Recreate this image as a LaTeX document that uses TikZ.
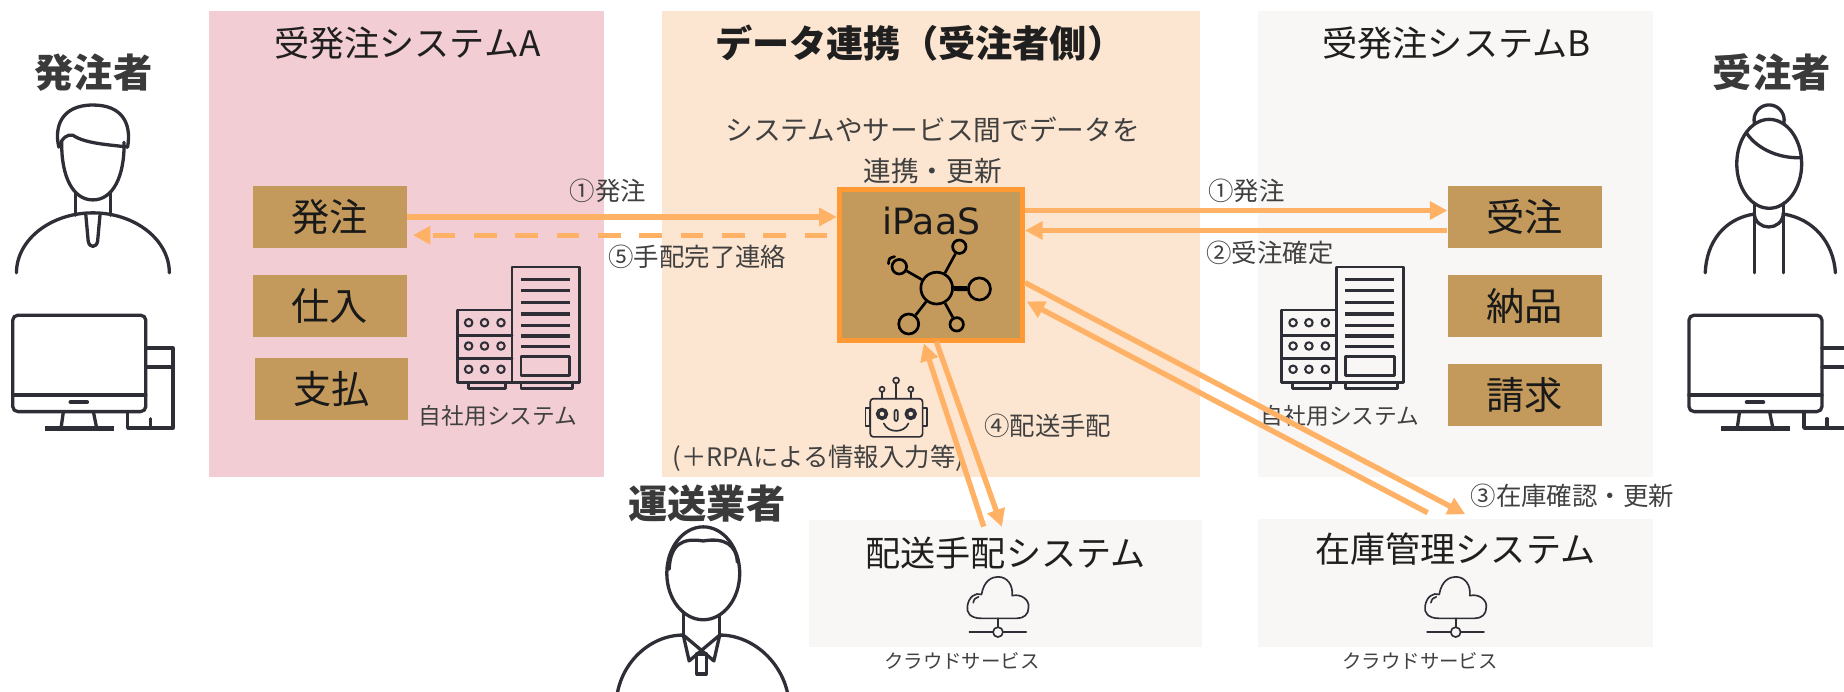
\documentclass[tikz,border=0pt]{standalone}
\usepackage{fontspec}
\setmainfont{Noto Sans CJK JP}
\newfontfamily\latinfont{DejaVu Sans}
\usetikzlibrary{arrows.meta,calc}

\definecolor{pinkbg}{HTML}{F2CDD4}
\definecolor{peachbg}{HTML}{FDE6D1}
\definecolor{greybg}{HTML}{F8F7F5}
\definecolor{boxtan}{HTML}{C49A5C}
\definecolor{ipaasedge}{HTML}{FF9933}
\definecolor{flowor}{HTML}{FFB266}
\definecolor{icongrey}{HTML}{2E2E36}
\definecolor{labelgrey}{HTML}{404040}
\definecolor{whogrey}{HTML}{3A3A3A}

\tikzset{
  panel/.style={fill=#1, inner sep=0pt, outer sep=0pt, anchor=north west},
  paneltitle/.style={font=\fontsize{17}{20}\selectfont, text=black!88},
  who/.style={font=\bfseries\fontsize{19}{22}\selectfont, text=whogrey},
  funcbox/.style={fill=boxtan, minimum width=2.614cm, minimum height=1.06cm,
    inner sep=0pt, font=\fontsize{18.5}{20}\selectfont, text=black!90},
  flow/.style={draw=flowor, line width=2.6pt, -{Triangle[length=8.5pt,width=8.5pt]}},
  flowlbl/.style={font=\fontsize{12.3}{14}\selectfont, text=labelgrey},
  smalllbl/.style={font=\fontsize{#1}{14}\selectfont, text=labelgrey},
  iconline/.style={draw=icongrey, line width=1.6pt, line cap=round, line join=round},
  thinicon/.style={draw=icongrey, line width=0.8pt, line cap=round, line join=round},
  netdot/.style={circle, draw=black, line width=1.3pt, inner sep=0pt},
  netline/.style={draw=black, line width=1.3pt},
  pics/desktop/.style={code={
    \draw[iconline, rounded corners=2.5pt] (0,0) rectangle (113.2,82);
    \draw[iconline] (0,68) -- (113.2,68);
    \draw[iconline, line width=2pt] (49.2,74) -- (63.2,74);
    \draw[iconline] (43.1,82) -- (41.1,96) (68.6,82) -- (71.4,96);
    \draw[iconline, line width=2.4pt, line cap=butt] (27.5,96) -- (86.2,96);
    \draw[iconline] (113.2,28) -- (136.2,28) -- (136.2,96) -- (97.8,96) -- (97.8,82);
    \draw[iconline] (113.2,44) -- (136.2,44);
    \draw[iconline] (117.4,96) -- (117.4,88);
  }},
  pics/server/.style={code={
    \draw[iconline, line width=1.4pt] (0,0) rectangle (46.4,61.9);
    \draw[iconline, line width=1.4pt] (0,21.4) -- (46.4,21.4) (0,41) -- (46.4,41);
    \foreach \r in {10.8,30.6,50.4}
      \foreach \c in {9.5,23,37}
        \draw[iconline, line width=1pt] (\c,\r) circle[radius=3.2];
    \draw[iconline, line width=1.4pt] (46.4,-36.6) rectangle (103.5,61.9);
    \foreach \yy in {-25.6,-16.2,-6.6,3.4,12.8,22.1,31.2}
      \draw[icongrey, line width=1.5pt] (54,\yy) -- (95.6,\yy);
    \draw[iconline, line width=1.4pt] (54,39.4) rectangle (95.6,55.4);
    \draw[iconline, line width=1.4pt] (9,61.9) rectangle (41,66.4);
    \draw[iconline, line width=1.4pt] (54,61.9) rectangle (98,66.4);
  }},
  pics/cloudsvc/.style={code={
    \draw[thinicon] (-14,-11.7) .. controls (-24,-11.7) and (-27,-17) .. (-26,-22)
      .. controls (-25,-30) and (-19,-34) .. (-14,-32)
      .. controls (-12,-44) and (-5,-47) .. (0,-47)
      .. controls (8,-47) and (13,-40) .. (12,-31)
      .. controls (20,-33) and (27,-27) .. (26,-21)
      .. controls (26,-15) and (22,-11.7) .. (16,-11.7) -- cycle;
    \draw[thinicon] (-21,-25) .. controls (-20.5,-28) and (-19,-29.5) .. (-16.5,-30);
    \draw[thinicon] (0,-11.7) -- (0,-4.2);
    \draw[thinicon] (0,0) circle[radius=4.2];
    \draw[thinicon] (-24.3,0) -- (-4.2,0) (4.2,0) -- (24,0);
  }}
}

\begin{document}
\begin{tikzpicture}[x=0.02cm, y=-0.02cm]
\useasboundingbox (0,0) rectangle (1568,588);
\clip (0,0) rectangle (1568,588);

% background panels
\node[panel=pinkbg, minimum width=6.71cm, minimum height=7.92cm] (sysA) at (178,9.5) {};
\node[panel=peachbg, minimum width=9.148cm, minimum height=7.92cm] (link) at (563,9.5) {};
\node[panel=greybg, minimum width=6.712cm, minimum height=7.92cm] (sysB) at (1070,9.5) {};
\node[panel=greybg, minimum width=6.68cm, minimum height=2.16cm] (deliv) at (688,442.5) {};
\node[panel=greybg, minimum width=6.712cm, minimum height=2.18cm] (stock) at (1070,441.5) {};

% panel titles
\node[paneltitle] (titleA) at (346.4,36.5) {受発注システムA};
\node[paneltitle] (titleB) at (1238.5,36.5) {受発注システムB};
\node[paneltitle, font=\bfseries\fontsize{18}{20}\selectfont] (titleC) at (782,36.5) {データ連携（受注者側）};
\node[paneltitle] (titleD) at (855,470) {配送手配システム};
\node[paneltitle] (titleS) at (1237.5,467) {在庫管理システム};
\node[smalllbl=13.4, align=center, font=\fontsize{13.4}{19.8}\selectfont] (what) at (793,127.5)
  {システムやサービス間でデータを\\連携・更新};

% people
\node[who] (orderer) at (79.5,62) {発注者};
\node[who] (supplier) at (1506.5,62) {受注者};
\node[who] (carrier) at (601,428) {運送業者};

% orderer figure
\draw[iconline] (50,125) .. controls (46,108) and (52,89.3) .. (79,89.3)
  .. controls (104,89.3) and (112,105) .. (108.5,125);
\draw[iconline] (52.5,121) .. controls (52,150) and (62,170) .. (79,170)
  .. controls (96,170) and (106,150) .. (105.5,121);
\draw[iconline] (50,125) .. controls (53,117) and (57,114) .. (62,115)
  .. controls (72,122) and (92,123) .. (108.5,125);
\draw[iconline] (64,163) -- (64,183) (94,163) -- (94,183);
\draw[iconline] (14,232) .. controls (14,204) and (43,181) .. (79,181)
  .. controls (115,181) and (144,204) .. (144,232);
\draw[iconline] (73,183) -- (75,205) .. controls (76,211) and (82,211) .. (83,205) -- (85,183);
\pic at (10.8,268) {desktop};

% supplier figure
\draw[iconline, fill=white] (1504.3,102) circle[radius=12.8];
\draw[iconline, fill=white] (1504.4,139.3) ellipse[x radius=27.6, y radius=37.8];
\draw[iconline] (1485,113) .. controls (1495,128) and (1515,135) .. (1531.5,134);
\draw[iconline] (1491.6,172.7) -- (1491.6,232) (1516.4,172.7) -- (1516.4,232);
\draw[iconline] (1491.6,181) .. controls (1492,197) and (1516,197) .. (1516.4,181);
\draw[iconline] (1491.6,182) .. controls (1466,186) and (1451,206) .. (1450,232);
\draw[iconline] (1516.4,182) .. controls (1542,186) and (1559,206) .. (1560.7,232);
\pic at (1436.1,268) {desktop};

% carrier figure
\draw[iconline] (598,487.5) ellipse[x radius=31, y radius=39.5];
\draw[iconline] (569,484) .. controls (570,463) and (580,457) .. (598,460)
  .. controls (616,457) and (626,463) .. (627,478);
\draw[iconline] (581,520.5) -- (581,540) (612,522.8) -- (612,540);
\draw[iconline] (581,540) -- (596.5,553) -- (612,540);
\draw[iconline] (581,540) -- (586,562) -- (596.5,553) -- (607,562) -- (612,540);
\draw[iconline] (592.5,556) rectangle (600.5,573);
\draw[iconline] (581,540) .. controls (550,540) and (524,568) .. (524,600);
\draw[iconline] (612,540) .. controls (643,540) and (670,568) .. (671,600);

% ordering system A
\node[funcbox] (hacchuA) at (280.4,184.5) {発注};
\node[funcbox] (shiire) at (280.4,260.3) {仕入};
\node[funcbox] (shiharai) at (282,330.7) {支払};
\pic at (389,263.6) {server};
\node[smalllbl=11] (ownA) at (423.5,354) {自社用システム};

% ordering system B
\node[funcbox] (juchu) at (1296.5,184.5) {受注};
\node[funcbox] (nouhin) at (1296.5,260.3) {納品};
\node[funcbox] (seikyu) at (1296.5,335.8) {請求};
\pic at (1090,263.6) {server};
\node[smalllbl=11] (ownB) at (1139.5,354) {自社用システム};

% cloud services
\pic at (848.6,537.5) {cloudsvc};
\pic at (1237.8,537.5) {cloudsvc};
\node[smalllbl=9.4] (cloudD) at (818,562) {クラウドサービス};
\node[smalllbl=9.4] (cloudS) at (1207.5,562) {クラウドサービス};

% iPaaS hub
\node[draw=ipaasedge, line width=2.45pt, fill=boxtan, minimum width=3.116cm,
  minimum height=2.556cm, inner sep=0pt] (ipaas) at (791.55,225.35) {};
\node[anchor=base, font=\latinfont\fontsize{17.5}{20}\selectfont, text=black!90] (ipaaslbl) at (792,199.5) {iPaaS};
\node[netdot, minimum size=0.54cm] (hub) at (796.5,245) {};
\node[netdot, minimum size=0.228cm] (nTR) at (815.7,209.8) {};
\node[netdot, minimum size=0.376cm] (nR) at (832.8,245.7) {};
\node[netdot, minimum size=0.228cm] (nBR) at (813.5,275.8) {};
\node[netdot, minimum size=0.34cm] (nBL) at (772.7,275.5) {};
\node[netdot, minimum size=0.248cm] (nUL) at (764.7,226.8) {};
\draw[netline] (hub) -- (nTR);
\draw[netline, line width=2.4pt] (hub) -- (nR);
\draw[netline] (hub) -- (nBR);
\draw[netline] (hub) -- (nBL);
\draw[netline] (hub) -- (nUL);
\draw[netline, line cap=round] (755.5,224.3) .. controls (756,219.5) .. (760.7,218.2);

% RPA robot
\draw[thinicon, rounded corners=1.5pt] (740,339) rectangle (784.5,371.5);
\draw[thinicon] (736,347) rectangle (740,362) (784.5,347) rectangle (788.5,362);
\draw[thinicon] (762,339) -- (762,326) (750,339) -- (750,333.2) (774.5,339) -- (774.5,333.2);
\draw[thinicon] (762,323.5) circle[radius=2.5] (750,331) circle[radius=2.2] (774.5,331) circle[radius=2.2];
\draw[thinicon] (750,352) circle[radius=4.6] (750,352) circle[radius=2.8];
\draw[thinicon] (774.4,352) circle[radius=4.6] (774.4,352) circle[radius=2.8];
\draw[thinicon, rounded corners=1pt] (760.6,348.5) rectangle (763.4,358);
\draw[thinicon] (751.5,360) .. controls (755,368.5) and (769,368.5) .. (772.5,360);
\node[flowlbl] (rpa) at (696,390) {(＋RPAによる情報入力等)};

% data flows
\draw[flow] (hacchuA.east) -- (hacchuA.east -| ipaas.west);
\draw[flow, dash pattern=on 11pt off 9pt] ($(hacchuA.east -| ipaas.west)+(-8,15.5)$) -- ($(hacchuA.east)+(5,15.5)$);
\draw[flow] ($(juchu.west -| ipaas.east)+(0,-5.5)$) -- ($(juchu.west)+(0,-5.5)$);
\draw[flow] ($(juchu.west)+(0,11.5)$) -- ($(juchu.west -| ipaas.east)+(0,11.5)$);
\draw[flow] ($(ipaas.east)+(0,15)$) -- ($(stock.north)+(8.2,-4.2)$);
\draw[flow] ($(stock.north)+(-23.8,-5.5)$) -- ($(ipaas.east)+(1.5,31)$);
\draw[flow] ($(deliv.north)+(-18.5,5.3)$) -- ($(ipaas.south)+(-6,0.6)$);
\draw[flow] ($(ipaas.south)+(4.6,-0.9)$) -- ($(deliv.north)+(-3,5.5)$);

% flow labels
\node[flowlbl] (l1a) at (517,162) {①発注};
\node[flowlbl] (l5) at (593,218.5) {⑤手配完了連絡};
\node[flowlbl] (l1b) at (1060,162) {①発注};
\node[flowlbl] (l2) at (1080,215) {②受注確定};
\node[flowlbl] (l3) at (1337,422) {③在庫確認・更新};
\node[flowlbl] (l4) at (891,362.5) {④配送手配};
\end{tikzpicture}
\end{document}
